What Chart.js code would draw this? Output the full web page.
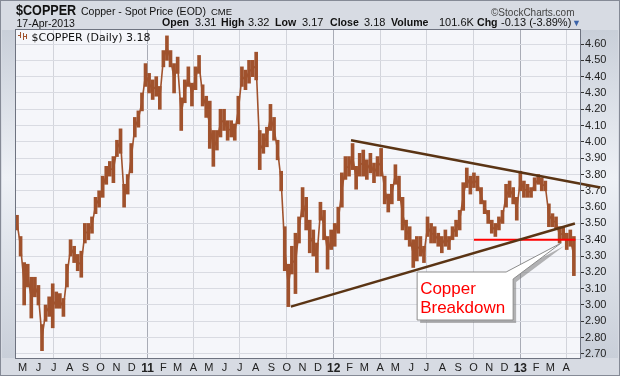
<!DOCTYPE html>
<html>
<head>
<meta charset="utf-8">
<script src="https://cdn.jsdelivr.net/npm/chart.js@4.4.0/dist/chart.umd.min.js"></script>
<style>
  body { margin: 0; background: #fff; }
  #wrap { position: relative; width: 620px; height: 376px; overflow: hidden; }
  #c { position: absolute; left: 0; top: 0; }
  .t { position: absolute; white-space: nowrap; line-height: 1; color: #111;
       font-family: "Liberation Sans", Arial, sans-serif; }
  .b { font-weight: bold; font-size: 11.5px; top: 17.1px; transform: scaleX(0.92); transform-origin: left; }
  .v { font-size: 11px; top: 17.4px; }
</style>
</head>
<body>
<div id="wrap">
  <canvas id="c" width="620" height="376"></canvas>
  <span class="t" style="left:16px;top:2.4px;font-size:15px;font-weight:bold;transform:scaleX(0.84);transform-origin:left">$COPPER</span>
  <span class="t" style="left:81px;top:6.1px;font-size:10.5px">Copper - Spot Price (EOD)</span>
  <span class="t" style="left:211px;top:7px;font-size:9.5px">CME</span>
  <span class="t" style="left:491px;top:7.5px;font-size:10px;color:#444">©StockCharts.com</span>
  <span class="t" style="left:16.5px;top:17.8px;font-size:10.5px">17-Apr-2013</span>
  <span class="t b" style="left:162px">Open</span><span class="t v" style="left:195px">3.31</span>
  <span class="t b" style="left:221px">High</span><span class="t v" style="left:248px">3.32</span>
  <span class="t b" style="left:275px">Low</span><span class="t v" style="left:302px">3.17</span>
  <span class="t b" style="left:330px">Close</span><span class="t v" style="left:364px">3.18</span>
  <span class="t b" style="left:391px">Volume</span><span class="t v" style="left:439px">101.6K</span>
  <span class="t b" style="left:477px">Chg</span><span class="t v" style="left:501px">-0.13 (-3.89%)</span>
  <span class="t" style="left:572px;top:19px;font-size:9px;color:#3a62a8">▼</span>
</div>
<script>
// weekly ranges of $COPPER, first week starting 20-Apr-2010
const firstWeek = '2010-04-20';
const weekLow = [
  3.46, 3.30, 3.00, 3.11, 2.92, 3.05, 3.00, 2.72, 2.90, 2.93, 2.86, 2.98, 2.98, 2.93, 3.11, 3.30,
  3.26, 3.21, 3.17, 3.38, 3.40, 3.44, 3.56, 3.60, 3.66, 3.74, 3.79, 3.75, 3.91, 3.93, 3.60, 3.68,
  3.81, 4.03, 4.09, 4.19, 4.34, 4.30, 4.26, 4.28, 4.20, 4.46, 4.50, 4.46, 4.30, 4.42, 4.07, 4.24,
  4.34, 4.22, 4.32, 4.42, 4.22, 4.15, 3.96, 3.85, 3.95, 4.03, 4.07, 4.01, 4.03, 4.01, 4.11, 4.34,
  4.32, 4.36, 4.40, 4.38, 3.83, 3.93, 3.97, 4.07, 4.01, 3.89, 3.70, 3.21, 2.99, 3.19, 3.07, 3.38,
  3.54, 3.46, 3.32, 3.30, 3.20, 3.52, 3.40, 3.22, 3.34, 3.36, 3.44, 3.60, 3.77, 3.79, 3.83, 3.71,
  3.79, 3.79, 3.77, 3.81, 3.75, 3.79, 3.79, 3.62, 3.57, 3.62, 3.74, 3.64, 3.46, 3.40, 3.36, 3.23,
  3.27, 3.30, 3.26, 3.42, 3.38, 3.38, 3.36, 3.32, 3.36, 3.34, 3.40, 3.42, 3.46, 3.58, 3.72, 3.68,
  3.72, 3.70, 3.62, 3.56, 3.50, 3.44, 3.42, 3.46, 3.50, 3.60, 3.66, 3.62, 3.52, 3.70, 3.66, 3.66,
  3.66, 3.70, 3.74, 3.70, 3.70, 3.48, 3.48, 3.47, 3.38, 3.40, 3.34, 3.36, 3.18
];
const weekHigh = [
  3.55, 3.42, 3.26, 3.25, 3.17, 3.17, 3.12, 2.88, 3.00, 3.05, 3.13, 3.08, 3.07, 3.04, 3.25, 3.40,
  3.36, 3.31, 3.33, 3.50, 3.50, 3.54, 3.66, 3.70, 3.79, 3.85, 3.88, 3.91, 4.01, 4.08, 3.74, 3.80,
  3.99, 4.15, 4.19, 4.30, 4.48, 4.42, 4.38, 4.40, 4.34, 4.56, 4.65, 4.56, 4.48, 4.52, 4.27, 4.38,
  4.46, 4.36, 4.46, 4.53, 4.35, 4.28, 4.25, 4.07, 4.07, 4.20, 4.20, 4.13, 4.13, 4.11, 4.28, 4.46,
  4.44, 4.50, 4.50, 4.55, 4.07, 4.05, 4.09, 4.23, 4.15, 4.01, 3.82, 3.48, 3.25, 3.36, 3.44, 3.54,
  3.72, 3.66, 3.52, 3.46, 3.38, 3.63, 3.58, 3.42, 3.46, 3.50, 3.60, 3.81, 3.91, 3.91, 3.99, 3.85,
  3.93, 3.95, 3.89, 3.93, 3.87, 3.91, 3.96, 3.79, 3.68, 3.74, 3.86, 3.79, 3.66, 3.52, 3.48, 3.40,
  3.42, 3.42, 3.36, 3.54, 3.50, 3.48, 3.44, 3.42, 3.46, 3.42, 3.48, 3.52, 3.58, 3.75, 3.84, 3.79,
  3.81, 3.79, 3.72, 3.64, 3.58, 3.52, 3.50, 3.54, 3.58, 3.74, 3.76, 3.72, 3.66, 3.82, 3.76, 3.74,
  3.72, 3.78, 3.80, 3.78, 3.76, 3.62, 3.56, 3.54, 3.48, 3.48, 3.44, 3.46, 3.42
];

// month ticks, May 2010 .. Apr 2013
const monthLabels = ['M','J','J','A','S','O','N','D',
  '11','F','M','A','M','J','J','A','S','O','N','D',
  '12','F','M','A','M','J','J','A','S','O','N','D',
  '13','F','M','A'];
const yTicks = [2.7, 2.8, 2.9, 3.0, 3.1, 3.2, 3.3, 3.4, 3.5, 3.6, 3.7, 3.8, 3.9, 4.0, 4.1, 4.2, 4.3, 4.4, 4.5, 4.6];

// drawn lines [date, value]
const upperTrend = [['2012-02-04', 4.01], ['2013-06-07', 3.72]];
const lowerTrend = [['2011-10-09', 2.99], ['2013-04-18', 3.50]];
const supportLine = [['2012-10-02', 3.40], ['2013-04-19', 3.40]];
const calloutTip = ['2013-03-22', 3.38];
const calloutText = ['Copper', 'Breakdown'];

const day = s => (Date.parse(s) - Date.parse('2011-01-01')) / 864e5;
const startDay = day(firstWeek);
const bars = weekLow.map((lo, i) => ({x: startDay + 7 * i, y: [lo, weekHigh[i]]}));
const mids = weekLow.map((lo, i) => ({x: startDay + 7 * i, y: (lo + weekHigh[i]) / 2}));
const toPts = arr => arr.map(p => ({x: day(p[0]), y: p[1]}));
const monthStarts = monthLabels.map((m, k) => (Date.UTC(2010, 4 + k, 1) - Date.UTC(2011, 0, 1)) / 864e5);

const priceColor = '#a0522d';
const trendColor = '#5a3414';

const backdrop = {
  id: 'backdrop',
  beforeDraw(chart) {
    const {ctx, chartArea: a, width, height} = chart;
    ctx.save();
    ctx.fillStyle = '#d7dbe3';
    ctx.fillRect(0, 0, width, height);
    const g = ctx.createLinearGradient(0, a.top, 0, a.bottom);
    g.addColorStop(0, '#c9cfd9');
    g.addColorStop(0.45, '#eef1f6');
    g.addColorStop(1, '#c9cfd9');
    ctx.fillStyle = g;
    ctx.fillRect(2, a.top, a.left - 2, a.bottom - a.top);
    ctx.fillRect(a.right, a.top, width - a.right - 2, a.bottom - a.top);
    ctx.fillStyle = '#f5f6fa';
    ctx.fillRect(a.left, a.top, a.right - a.left, a.bottom - a.top);
    ctx.strokeStyle = '#858a96';
    ctx.lineWidth = 1;
    ctx.strokeRect(0.5, 0.5, width - 1, height - 1);
    ctx.restore();
  },
  afterDatasetsDraw(chart) {
    const {ctx, chartArea: a, scales} = chart;
    ctx.save();
    ctx.strokeStyle = '#6e7380';
    ctx.lineWidth = 1;
    ctx.strokeRect(a.left - 0.5, a.top - 0.5, a.right - a.left + 1, a.bottom - a.top + 1);

    // legend
    ctx.fillStyle = priceColor;
    ctx.fillRect(20, 32, 1, 6); ctx.fillRect(18, 35, 2, 1);
    ctx.fillRect(23, 33, 1, 7); ctx.fillRect(24, 36, 2, 1);
    ctx.fillRect(26, 34, 1, 5);
    ctx.fillStyle = '#111';
    ctx.font = '11px "DejaVu Sans"';
    ctx.textBaseline = 'alphabetic';
    ctx.fillText('$COPPER (Daily) 3.18', 31.5, 40.5);

    // callout
    const tx = scales.x.getPixelForValue(day(calloutTip[0]));
    const ty = scales.y.getPixelForValue(calloutTip[1]);
    const L = tx - 144, T = ty + 29, R = L + 96, B = T + 48;
    const shape = (dx, dy) => {
      ctx.beginPath();
      ctx.moveTo(L + dx, T + dy);
      ctx.lineTo(R - 7 + dx, T + dy);
      ctx.lineTo(tx + dx, ty + dy);
      ctx.lineTo(R + dx, T + 7 + dy);
      ctx.lineTo(R + dx, B + dy);
      ctx.lineTo(L + dx, B + dy);
      ctx.closePath();
    };
    shape(3, 3);
    ctx.fillStyle = 'rgba(120,120,120,0.55)';
    ctx.fill();
    shape(0, 0);
    ctx.fillStyle = '#ffffff';
    ctx.fill();
    ctx.strokeStyle = '#8c8c8c';
    ctx.stroke();
    ctx.fillStyle = '#ff0000';
    ctx.font = '17px "Liberation Sans"';
    ctx.fillText(calloutText[0], L + 3, T + 22);
    ctx.fillText(calloutText[1], L + 3, T + 41);
    ctx.restore();
  }
};

Chart.defaults.font.family = '"Liberation Sans", Arial, sans-serif';

new Chart(document.getElementById('c'), {
  type: 'bar',
  data: {
    datasets: [
      {type: 'line', data: toPts(upperTrend), borderColor: trendColor, borderWidth: 2.5, pointRadius: 0, clip: false},
      {type: 'line', data: toPts(lowerTrend), borderColor: trendColor, borderWidth: 2.5, pointRadius: 0, clip: false},
      {type: 'line', data: toPts(supportLine), borderColor: '#ff0000', borderWidth: 2, pointRadius: 0},
      {type: 'line', data: mids, borderColor: priceColor, borderWidth: 1.6, pointRadius: 0, tension: 0},
      {type: 'bar', data: bars, backgroundColor: priceColor, barThickness: 3, borderWidth: 0}
    ]
  },
  options: {
    responsive: false,
    animation: false,
    layout: {padding: {left: 16, top: 30, right: 0, bottom: 0}},
    plugins: {legend: {display: false}, tooltip: {enabled: false}},
    scales: {
      x: {
        type: 'linear',
        min: day('2010-04-18'),
        max: day('2013-04-28'),
        offset: false,
        afterFit(s) { s.height = 18; },
        afterBuildTicks(s) { s.ticks = monthStarts.map(v => ({value: v})); },
        border: {display: false},
        grid: {
          offset: false,
          drawTicks: false,
          color: c => {
            const m = (4 + c.index) % 12;
            if (m === 0) return '#a9acb6';
            if (m % 3 === 0) return '#d2d4db';
            return 'rgba(0,0,0,0)';
          }
        },
        ticks: {
          autoSkip: false,
          maxRotation: 0,
          padding: 3,
          color: '#222',
          callback: (v, i) => monthLabels[i],
          font: c => /\d/.test(monthLabels[c.index] || '') ? {size: 12, weight: 'bold'} : {size: 11}
        }
      },
      y: {
        position: 'right',
        min: 2.675,
        max: 4.686,
        afterFit(s) { s.width = 40; },
        afterBuildTicks(s) { s.ticks = yTicks.map(v => ({value: v})); },
        border: {display: false},
        grid: {color: '#d9dbe2', tickColor: '#333', tickLength: 4},
        ticks: {padding: 1, color: '#222', font: {size: 11}, callback: v => v.toFixed(2)}
      }
    }
  },
  plugins: [backdrop]
});
</script>
</body>
</html>
